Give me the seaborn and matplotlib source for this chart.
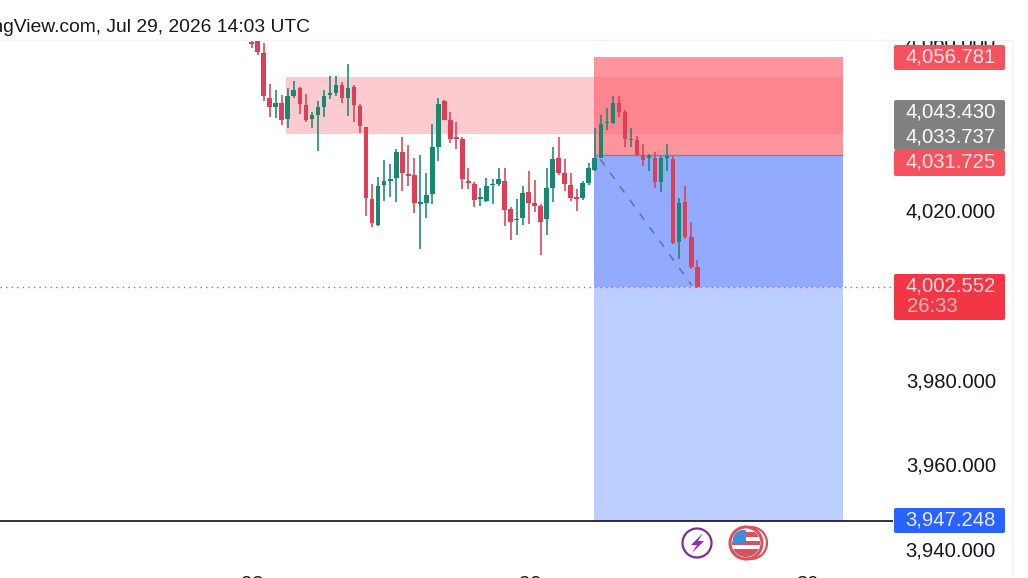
import matplotlib
matplotlib.use("Agg")
import matplotlib.pyplot as plt
import numpy as np
import pandas as pd
import seaborn as sns
from matplotlib.patches import Circle, Polygon, Rectangle, FancyBboxPatch
from matplotlib.ticker import FuncFormatter, FixedLocator
from matplotlib.transforms import Affine2D

# price = 4000 + value + small read-off correction
PRICE_BASE = 4000.45
opens = [59.7,60.2,57.3,46.8,44.7,45.6,41.7,47.3,49.0,45.0,41.7,42.7,44.5,47.5,48.0,49.7,46.7,49.3,44.9,39.8,
         22.9,16.7,26.1,27.2,27.7,34.0,28.8,28.5,21.7,21.8,24.0,35.1,45.9,41.5,37.2,37.0,27.2,26.4,22.8,22.4,
         26.1,26.5,27.1,20.4,17.8,18.3,24.4,22.0,21.3,18.0,25.5,32.5,29.1,26.1,23.1,23.0,26.7,29.7,32.6,40.7,
         40.7,45.5,43.4,36.7,36.8,33.2,32.5,32.5,26.9,32.5,32.2,12.7,22.1,13.9,6.8]
highs = [60.2,60.2,59.8,50.0,48.6,47.4,49.0,50.8,49.3,47.6,43.5,46.1,48.5,51.9,51.9,50.5,54.8,49.8,45.3,39.8,
         26.5,28.1,32.1,31.0,34.6,37.6,35.6,32.5,33.2,29.1,40.5,46.7,46.3,43.3,41.1,37.4,30.1,26.9,25.5,27.7,
         27.5,30.1,30.1,21.0,22.8,25.8,29.5,27.3,21.6,30.1,35.1,37.6,32.3,29.1,25.1,27.2,31.3,39.6,42.7,44.3,
         47.3,47.1,43.9,39.6,37.8,35.9,33.5,33.9,33.0,35.8,33.0,23.1,26.0,17.5,8.4]
lows = [58.5,56.8,45.9,42.2,41.9,40.4,39.7,46.7,43.0,41.0,39.6,34.3,42.2,46.4,47.1,45.6,42.5,41.1,38.5,18.9,
        16.3,16.4,22.4,23.4,22.2,24.8,25.9,19.6,10.9,18.3,21.7,31.9,41.5,36.0,34.7,25.1,25.1,21.0,21.2,22.2,
        21.6,25.8,16.4,13.1,14.3,16.8,16.9,19.8,9.6,14.3,22.2,28.5,24.7,22.4,20.0,22.6,26.1,29.5,32.5,39.2,
        40.6,42.2,35.2,35.2,33.0,30.7,29.5,25.4,24.6,29.5,12.2,8.6,13.3,6.4,1.9]
closes = [59.5,57.5,47.1,44.5,45.6,41.4,47.2,48.6,45.2,41.5,42.6,44.5,47.1,47.9,49.7,46.8,49.0,45.0,40.0,23.0,
          17.1,25.9,27.1,27.6,33.9,29.1,28.3,21.8,22.0,23.9,35.1,45.3,41.5,37.0,37.0,27.5,26.7,22.6,23.0,25.8,
          26.4,27.6,20.2,17.5,18.0,24.2,21.8,21.2,17.5,25.4,32.4,29.1,26.4,23.0,22.8,26.7,30.1,32.6,40.5,40.9,
          45.5,43.4,37.0,37.0,33.2,32.1,32.7,26.9,32.5,32.7,12.5,22.0,13.9,6.7,2.1]

y_ticks = [3940, 3960, 3980, 4000, 4020, 4040, 4060]
x_tick_labels = ["28", "29", "30"]
x_tick_bars = [0.05, 46.2, 92.3]
level_stop = 4056.781
level_entry = 4033.737
level_target = 3947.248
level_last = 4002.552
zone_top, zone_bottom = 4052.1, 4038.65
box_prices = ["4,056.781", "4,043.430", "4,033.737", "4,031.725", "4,002.552", "26:33", "3,947.248"]
title = "Published on TradingView.com, Jul 29, 2026 14:03 UTC"

RED, GREEN = "#DC3F56", "#18896F"
FS = 14.6

sns.set_theme(style="white")
plt.rcParams["font.family"] = ["Liberation Sans", "DejaVu Sans"]

W, H = 1028, 578
fig = plt.figure(figsize=(W / 100, H / 100), dpi=100, facecolor="white")
ax = fig.add_axes([0, (H - 575) / H, 1012 / W, 535 / H])
XLIM = (-251.7 / 6.02, (1012 - 251.7) / 6.02)
YLIM = (3934.4, 4060.875)
px = Affine2D().scale(1, -1).translate(0, H)

o, h, l, c = [PRICE_BASE + np.array(a) for a in (opens, highs, lows, closes)]
bars = np.arange(len(o))
up = c >= o

# zones
ax.add_patch(Rectangle((5.7, zone_bottom), 92.5, zone_top - zone_bottom, fc="#FBC2C8", ec="none", alpha=0.85, zorder=1))
ax.add_patch(Rectangle((56.85, level_entry), 41.35, level_stop - level_entry, fc="#FF6B78", ec="none", alpha=0.72, zorder=1.2))
ax.add_patch(Rectangle((56.85, level_last), 41.35, level_entry - level_last, fc="#92ABFF", ec="none", zorder=1.2))
ax.add_patch(Rectangle((56.85, level_target), 41.35, level_last - level_target, fc="#BCCEFF", ec="none", zorder=1.2))
ax.hlines(level_entry, 56.85, 98.2, color="#7D8590", lw=1.0, zorder=1.5)
ax.hlines(level_target, XLIM[0], 106.5, color="#111111", lw=1.2, zorder=1.6)
ax.hlines(level_last, XLIM[0], 106.5, color="#E5505F", lw=1.0, linestyles=(0, (1, 3)), zorder=1.6)
ax.plot([57.9, 73.1], [4032.7, 4002.9], color="#66738F", lw=1.1, ls=(0, (5, 6)), zorder=1.7)

# candles: wicks with seaborn, bodies as bars
wick_df = pd.DataFrame({
    "bar": np.r_[bars, bars],
    "price": np.r_[l, h],
    "dir": np.r_[up, up],
})
sns.lineplot(data=wick_df, x="bar", y="price", units="bar", estimator=None, hue="dir",
             palette={True: GREEN, False: RED}, lw=1.15, legend=False, ax=ax, zorder=3, solid_capstyle="butt")
ax.bar(bars, np.maximum(np.abs(c - o), 0.4), bottom=np.minimum(o, c), width=0.78,
       color=[GREEN if u else RED for u in up], edgecolor="none", linewidth=0, zorder=3.2)
ax.set_xlim(*XLIM)
ax.set_ylim(*YLIM)
ax.set_xlabel("")
ax.set_ylabel("")

# axes styling
for name, s in ax.spines.items():
    s.set_visible(name in ("top", "right"))
    s.set_color("#F2F3F6")
    s.set_linewidth(1)
ax.yaxis.tick_right()
ax.yaxis.set_major_locator(FixedLocator(y_ticks))
ax.yaxis.set_major_formatter(FuncFormatter(lambda v, _: f"{v:,.3f}"))
ax.tick_params(axis="y", length=0, pad=-11.5, labelsize=FS, labelcolor="#131722", zorder=2)
fig.canvas.draw()
for t in ax.get_yticklabels():
    t.set_ha("right")
    t.set_transform(t.get_transform() + Affine2D().translate(0, 2.5))
    t.set_clip_on(True)
    t.set_clip_box(ax.bbox)
ax.set_xticks(x_tick_bars, x_tick_labels)
ax.tick_params(axis="x", length=0, pad=0, labelsize=FS, labelcolor="#131722")

# price boxes
def box(y0, y1, color):
    fig.add_artist(FancyBboxPatch((895, y0 + 1), 109, y1 - y0 - 2, boxstyle="round,pad=1,rounding_size=2",
                                  fc=color, ec="none", transform=px, zorder=5))

def label(txt, y, color="white", x=996, ha="right"):
    fig.text(x, y, txt, color=color, fontsize=FS, ha=ha, va="center", transform=px, zorder=6)

box(45, 70, "#F5525F")
box(100, 150, "#808080")
box(150, 176, "#F5525F")
box(274, 320, "#F23645")
box(508, 533, "#2962FF")
label(box_prices[0], 57, "#FFE3E5")
label(box_prices[1], 112)
label(box_prices[2], 137)
label(box_prices[3], 162, "#FFE3E5")
label(box_prices[4], 286, "#FFDADD")
label(box_prices[5], 307, "#FFB4BA", x=907, ha="left")
label(box_prices[6], 520, "#E6ECFF")

# title, cut by the left edge
fig.text(310, 27.5, title, color="#131722", fontsize=13.85, ha="right", va="center", transform=px)

# event icons
fig.add_artist(Circle((697, 543), 14.5, fc="white", ec="#7A2E9E", lw=1.6, transform=px, zorder=5))
fig.add_artist(Polygon([(703, 533), (691, 545), (697, 545), (692, 553), (704, 541), (698, 541)], closed=True,
                       fc="#9C27B0", ec="none", transform=px, zorder=6))
fig.add_artist(Circle((751, 543), 16, fc="white", ec="#D8515C", lw=1.6, transform=px, zorder=5))
fig.add_artist(Circle((746, 543), 16, fc="white", ec="#D8515C", lw=2.2, transform=px, zorder=5.1))
clip = Circle((746, 543), 14, transform=px)
for y0, hh, col in [(532, 5, "#D8515C"), (541, 4, "#D8515C"), (549, 8, "#D8515C")]:
    r = Rectangle((732, y0), 28, hh, fc=col, ec="none", transform=px, zorder=5.2)
    fig.add_artist(r)
    r.set_clip_path(clip)
r = Rectangle((733, 530), 13, 13, fc="#3F8FD8", ec="none", transform=px, zorder=5.3)
fig.add_artist(r)
r.set_clip_path(clip)

fig.savefig("out.png", dpi=100, facecolor="white")
